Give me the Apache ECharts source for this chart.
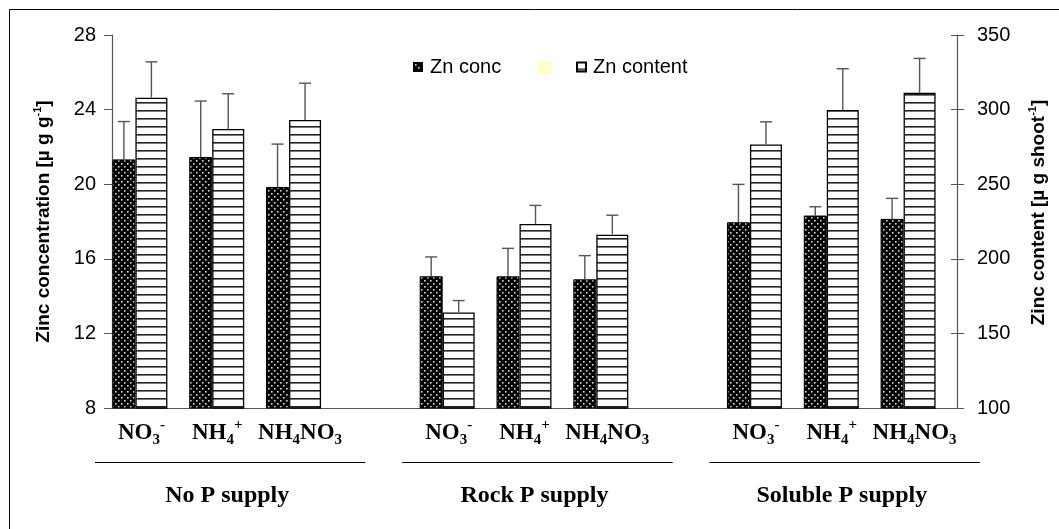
<!DOCTYPE html>
<html><head><meta charset="utf-8">
<script src="https://cdn.jsdelivr.net/npm/echarts@6/dist/echarts.min.js"></script>
<style>html,body{margin:0;padding:0;background:#fff}#c{width:1059px;height:529px}</style>
</head><body><div id="c"></div>
<script>
// ---- data ----
const categories = ['NO3-','NH4+','NH4NO3','','NO3-','NH4+','NH4NO3','','NO3-','NH4+','NH4NO3'];
const groupLabels = ['','No P supply','','','','Rock P supply','','','','Soluble P supply',''];
const groupCenters = [1,5,9];
const znConc = [21.33,21.46,19.85,null,15.06,15.06,14.90,null,17.96,18.32,18.14];
const znConcErr = [2.03,3.0,2.3,null,1.04,1.5,1.27,null,2.03,0.47,1.1];
const znContent = [308,287,293,null,164,223.4,216.2,null,276.6,299.7,311.3];
const znContentErr = [24,23.6,24.7,null,8,12.4,13,null,15.2,27.7,23];
const concAxis = {min:8,max:28,interval:4};
const contentAxis = {min:100,max:350,interval:50};

// ---- styles ----
const W1 = 23, W2 = 32, W3 = 21, CAP = 12;
const TOTAL = W1 + W2 + W3;
const OFF1 = -TOTAL/2 + W1/2;
const OFF2 = -TOTAL/2 + W1 + W2/2;
const AX = '#555';
const SANS = 'Liberation Sans, Arial, sans-serif';
const SERIF = 'Liberation Serif, Times New Roman, serif';

function dotPattern(){
  const c=document.createElement('canvas'); c.width=6; c.height=6;
  const g=c.getContext('2d'); g.fillStyle='#000'; g.fillRect(0,0,6,6);
  g.fillStyle='#d8d8d8'; g.fillRect(1,1,1.6,1.6); g.fillRect(4,4,1.6,1.6);
  return c;
}
function stripePattern(){
  const c=document.createElement('canvas'); c.width=4; c.height=8;
  const g=c.getContext('2d'); g.fillStyle='#fff'; g.fillRect(0,0,4,8);
  g.fillStyle='#222'; g.fillRect(0,6,4,1.6);
  return c;
}

function errSeries(vals, errs, yIdx, off){
  return {
    type:'custom', yAxisIndex:yIdx, z:5, silent:true,
    data: vals.map((v,i)=> v==null ? null : [i, v, errs[i]]).filter(d=>d),
    renderItem(params, api){
      const i=api.value(0), v=api.value(1), e=api.value(2);
      const p0=api.coord([i,v]), p1=api.coord([i,v+e]);
      const x=p0[0]+off;
      const st={stroke:'#555', lineWidth:1.4};
      return {type:'group', children:[
        {type:'line', shape:{x1:x,y1:p0[1],x2:x,y2:p1[1]}, style:st},
        {type:'line', shape:{x1:x-CAP/2,y1:p1[1],x2:x+CAP/2,y2:p1[1]}, style:st}
      ]};
    }
  };
}

const labelMap = {
  'NO3-': '{n|NO}{sb|3}{sp|-}{p1|}',
  'NH4+': '{n|NH}{sb|4}{sp|+}{p2|}',
  'NH4NO3': '{n|NH}{sb|4}{n|NO}{sb|3}{p3|}'
};

const nameRich = {
  t:{fontFamily:SANS, fontWeight:'bold', fontSize:19, color:'#000', lineHeight:24},
  s:{fontFamily:SANS, fontWeight:'bold', fontSize:11, color:'#000', lineHeight:11, verticalAlign:'top'}
};

const chart = echarts.init(document.getElementById('c'));
chart.setOption({
  animation:false,
  backgroundColor:'#fff',
  grid:{left:112, right:102, top:35, bottom:121, containLabel:false},
  legend:[
    {data:['Zn conc'], left:408, top:52, icon:'rect', itemWidth:8, itemHeight:8,
     textStyle:{fontFamily:SANS, fontSize:20, color:'#000', padding:[0,0,0,3]}},
    {data:[' '], left:533, top:53, icon:'rect', itemWidth:14, itemHeight:14,
     textStyle:{fontFamily:SANS, fontSize:20, color:'#000'}},
    {data:['Zn content'], left:571, top:52, icon:'rect', itemWidth:9, itemHeight:9,
     textStyle:{fontFamily:SANS, fontSize:20, color:'#000', padding:[0,0,0,2]}}
  ],
  xAxis:[
    {type:'category', data:categories, boundaryGap:true,
     axisLine:{lineStyle:{color:AX, width:1.2}}, axisTick:{show:false},
     axisLabel:{interval:0, margin:10,
       formatter:v=>labelMap[v]||'',
       rich:{
         n:{fontFamily:SERIF, fontWeight:'bold', fontSize:23, color:'#000', lineHeight:30},
         sb:{fontFamily:SERIF, fontWeight:'bold', fontSize:15, color:'#000', lineHeight:15, verticalAlign:'bottom'},
         sp:{fontFamily:SERIF, fontWeight:'bold', fontSize:15, color:'#000', lineHeight:15, verticalAlign:'top'},
         p1:{width:18}, p2:{width:20}, p3:{width:8}
       }}},
    {type:'category', data:groupLabels, position:'bottom', offset:68, boundaryGap:true,
     axisLine:{show:false}, axisTick:{show:false},
     axisLabel:{interval:0, margin:8, fontFamily:SERIF, fontWeight:'bold', fontSize:24, color:'#000'}}
  ],
  yAxis:[
    {type:'value', position:'left', min:concAxis.min, max:concAxis.max, interval:concAxis.interval,
     splitLine:{show:false},
     axisLine:{show:true, lineStyle:{color:AX, width:1.2}},
     axisTick:{show:true, length:8, lineStyle:{color:AX}},
     axisLabel:{margin:16, fontFamily:SANS, fontSize:20, color:'#000'},
     name:'{t|Zinc concentration [µ g g}{s|-1}{t|]}', nameLocation:'middle', nameRotate:90,
     nameGap:56, nameMoveOverlap:false,
     nameTextStyle:{rich:nameRich}},
    {type:'value', position:'right', min:contentAxis.min, max:contentAxis.max, interval:contentAxis.interval,
     splitLine:{show:false},
     axisLine:{show:true, lineStyle:{color:AX, width:1.2}},
     axisTick:{show:true, length:7, lineStyle:{color:AX}},
     axisLabel:{margin:20, fontFamily:SANS, fontSize:20, color:'#000'},
     name:'{t|Zinc content [µ g shoot}{s|-1}{t|]}', nameLocation:'middle', nameRotate:90,
     nameGap:70, nameMoveOverlap:false,
     nameTextStyle:{rich:nameRich, padding:[0,0,0,18]}},
    {type:'value', position:'right', min:contentAxis.min, max:contentAxis.max, interval:contentAxis.interval,
     splitLine:{show:false}, axisLine:{show:false}, axisLabel:{show:false},
     axisTick:{show:true, inside:true, length:6, lineStyle:{color:AX}}}
  ],
  series:[
    {name:'Zn conc', type:'bar', yAxisIndex:0, data:znConc, barWidth:W1, barGap:'0%',
     itemStyle:{color:{image:dotPattern(), repeat:'repeat'}, borderColor:'#000', borderWidth:1}},
    {name:'Zn content', type:'bar', yAxisIndex:1, data:znContent, barWidth:W2, barGap:'0%',
     itemStyle:{color:{image:stripePattern(), repeat:'repeat'}, borderColor:'#000', borderWidth:1.3}},
    {name:' ', type:'bar', yAxisIndex:0, data:categories.map(()=>null), barWidth:W3, barGap:'0%',
     itemStyle:{color:'#FFFFCC'}},
    errSeries(znConc, znConcErr, 0, OFF1),
    errSeries(znContent, znContentErr, 1, OFF2),
    {type:'custom', yAxisIndex:0, silent:true, clip:false,
     data: groupCenters.map(i=>[i]),
     renderItem(params, api){
       const c = api.coord([api.value(0), concAxis.min]);
       const band = api.size([1,0])[0];
       const half = band*1.76, x0 = c[0]+3, y = Math.round(c[1]+54)+0.5;
       return {type:'line', shape:{x1:x0-half, y1:y, x2:x0+half, y2:y}, style:{stroke:'#000', lineWidth:1}};
     }}
  ],
  graphic:[{type:'rect', silent:true, z:-10, shape:{x:9.5,y:9.5,width:1200,height:800},
    style:{fill:'none', stroke:'#000', lineWidth:1}}]
});
</script></body></html>
